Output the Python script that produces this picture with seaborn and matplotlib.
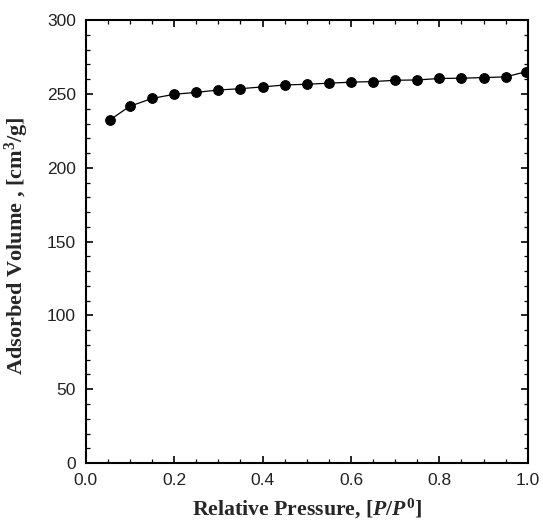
import numpy as np
import pandas as pd
import seaborn as sns
import matplotlib.pyplot as plt
from matplotlib.ticker import MultipleLocator

rel_pressure = [0.054, 0.099, 0.15, 0.20, 0.25, 0.30, 0.35, 0.40, 0.45, 0.50,
                0.55, 0.60, 0.65, 0.70, 0.75, 0.80, 0.85, 0.90, 0.95, 0.995]
adsorbed = [232.3, 241.6, 247.0, 249.8, 251.1, 252.7, 253.6, 254.8, 256.1, 256.6,
            257.3, 258.0, 258.4, 259.3, 259.5, 260.5, 260.7, 261.1, 261.6, 265.0]

df = pd.DataFrame({'P': rel_pressure, 'V': adsorbed})

sns.set_style('ticks')
plt.rcParams['font.family'] = ['Liberation Sans', 'DejaVu Sans']
plt.rcParams['mathtext.fontset'] = 'custom'
plt.rcParams['mathtext.rm'] = 'Liberation Serif:bold'
plt.rcParams['mathtext.it'] = 'Liberation Serif:bold:italic'
plt.rcParams['mathtext.bf'] = 'Liberation Serif:bold'

fig = plt.figure(figsize=(5.43, 5.31), dpi=100)
ax = fig.add_axes([0.158, 0.128, 0.814, 0.834])

sns.lineplot(data=df, x='P', y='V', ax=ax, color='black', linewidth=0.9,
             marker='o', markersize=7, markeredgecolor='black')

ax.set_xlim(0, 1.0)
ax.set_ylim(0, 300)
ax.xaxis.set_major_locator(MultipleLocator(0.2))
ax.xaxis.set_minor_locator(MultipleLocator(0.05))
ax.yaxis.set_major_locator(MultipleLocator(50))
ax.yaxis.set_minor_locator(MultipleLocator(10))
ax.set_xticklabels([f'{v:.1f}' for v in ax.get_xticks()])
ax.tick_params(which='both', direction='in', top=True, right=True,
               color='black', labelsize=12.5, labelcolor='#222222')
ax.tick_params(which='major', length=5, width=1.2, pad=7)
ax.tick_params(which='minor', length=3, width=0.9)
for s in ax.spines.values():
    s.set_linewidth(1.5)
    s.set_color('black')

ax.set_xlabel(r'Relative Pressure, [$P$/$P^{\mathit{0}}$]', family='Liberation Serif',
              fontweight='bold', fontsize=15.7)
ax.set_ylabel(r'Adsorbed Volume , [cm$^3$/g]', family='Liberation Serif',
              fontweight='bold', fontsize=16)
ax.xaxis.set_label_coords(0.5, -0.077)
ax.yaxis.set_label_coords(-0.124, 0.49)

fig.savefig('out.png', dpi=100)
